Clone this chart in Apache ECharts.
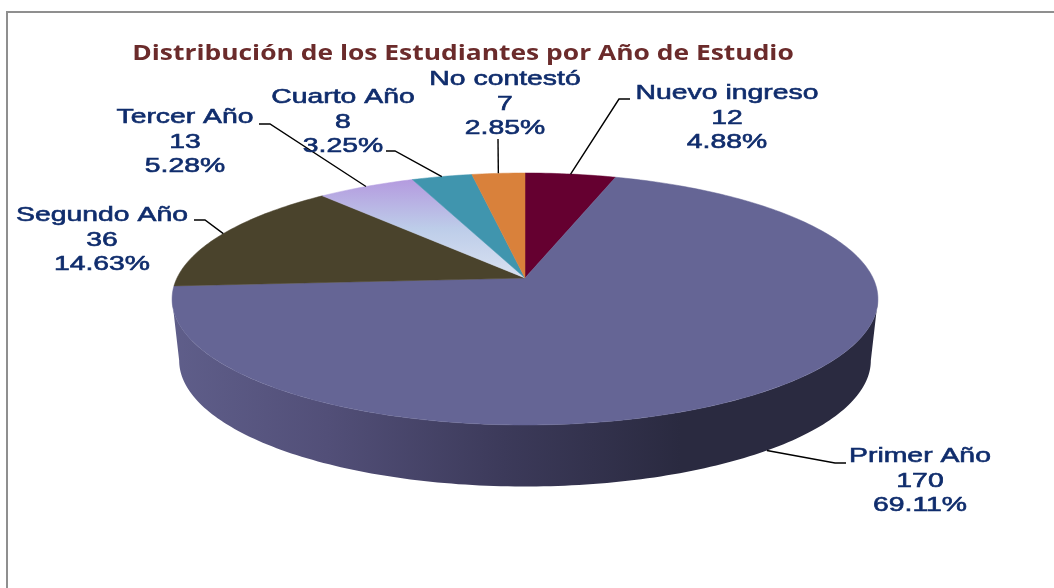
<!DOCTYPE html>
<html><head><meta charset="utf-8">
<style>html,body{margin:0;padding:0;background:#fff}#c{width:1054px;height:588px}</style>
<script src="https://cdn.jsdelivr.net/npm/echarts@6/dist/echarts.min.js"></script>
</head><body><div id="c"></div>
<script>
const categories = ['Nuevo ingreso','Primer Año','Segundo Año','Tercer Año','Cuarto Año','No contestó'];
const values = [12,170,36,13,8,7];
const chartTitle = 'Distribución de los Estudiantes por Año de Estudio';

const total = values.reduce((a,b)=>a+b,0);
// projection of the tilted disc
const P = {cx:525, cy:278, a:348, b:122.5, k:1/6, cy2:339.5, a2:341};
const rad = d=>d*Math.PI/180;
function topPt(t){const s=Math.sin(rad(t)),c=Math.cos(rad(t)),d=1+P.k*c;return [P.cx+P.a*s/d,P.cy-P.b*c/d];}
function botPt(t){const s=Math.sin(rad(t)),c=Math.cos(rad(t)),d=1+P.k*c;return [P.cx+P.a2*s/d,P.cy2-P.b*c/d];}
const silR = 99.6, silL = 260.4;

const violet = new echarts.graphic.LinearGradient(0,0,0,1,[{offset:0,color:'#b49adf'},{offset:.5,color:'#bdcde9'},{offset:1,color:'#d9e1f1'}]);
const wallFill = new echarts.graphic.LinearGradient(0,0,1,0,[{offset:0,color:'#5f5e8a'},{offset:.22,color:'#524f78'},{offset:.47,color:'#3c3a5a'},{offset:.72,color:'#2a2a40'},{offset:1,color:'#2a2a40'}]);
const fills = ['#650030','#656595','#4a432c',violet,'#4095ae','#d9813b'];
// label centre x, text top y, elbow start and end
const labelLayout = [
  {x:727,y:81,e:[[630,99],[619,99]]},
  {x:920,y:444,e:[[846,463],[835,463]]},
  {x:102,y:203,e:[[194,220],[205,220]]},
  {x:185,y:105,e:[[259,124],[270,124]]},
  {x:343,y:85,e:[[386,151],[395,151]]},
  {x:505,y:67,e:[[498,139],[498,139]]}
];

function renderItem(params, api){
  const i = params.dataIndex;
  let before = 0; for(let j=0;j<i;j++) before += values[j];
  const start = before/total*360, end = (before+api.value(1))/total*360;
  const pts = [[P.cx,P.cy]];
  for(let t=start;t<end;t+=1) pts.push(topPt(t));
  pts.push(topPt(end));
  const children = [];
  const wS = Math.max(start,silR), wE = Math.min(end,silL);
  if(wE>wS){
    const w=[];
    for(let t=wS;t<wE;t+=1) w.push(topPt(t)); w.push(topPt(wE));
    for(let t=wE;t>wS;t-=1) w.push(botPt(t)); w.push(botPt(wS));
    children.push({type:'polygon',shape:{points:w},style:{fill:wallFill,stroke:null}});
  }
  children.push({type:'polygon',shape:{points:pts},style:{fill:fills[i],stroke:fills[i],lineWidth:.5}});
  const mid=(start+end)/2, L=labelLayout[i];
  const anchor = (mid>silR && mid<silL) ? botPt(mid) : topPt(mid);
  children.push({type:'polyline',z2:5,shape:{points:[L.e[0],L.e[1],anchor]},style:{fill:null,stroke:'#000',lineWidth:1.4}});
  const pct=(api.value(1)/total*100).toFixed(2)+'%';
  children.push({type:'text',z2:10,x:L.x,y:L.y,scaleX:1.35,
    style:{text:categories[i]+'\n'+api.value(1)+'\n'+pct,textAlign:'center',textVerticalAlign:'top',
      fontFamily:'Liberation Sans',fontSize:21,lineHeight:24.5,fill:'#0f2c6c',stroke:'#0f2c6c',lineWidth:.6,fontWeight:'normal'}});
  return {type:'group',children};
}

const chart = echarts.init(document.getElementById('c'),null,{renderer:'canvas'});
chart.setOption({
  animation:false,
  backgroundColor:'#fff',
  graphic:[
    {type:'rect',z:-1,shape:{x:7,y:12,width:1200,height:800},style:{fill:null,stroke:'#8f8f8f',lineWidth:2}},
    {type:'text',x:463,y:54,scaleX:1.2,style:{text:chartTitle,textAlign:'center',textVerticalAlign:'middle',
      fill:'#6b2b2b',fontFamily:'Open Sans',fontWeight:'bold',fontSize:22}}
  ],
  series:[{type:'custom',coordinateSystem:'none',renderItem,
    data:categories.map((c,i)=>({name:c,value:[i,values[i]]}))}]
});
</script></body></html>
